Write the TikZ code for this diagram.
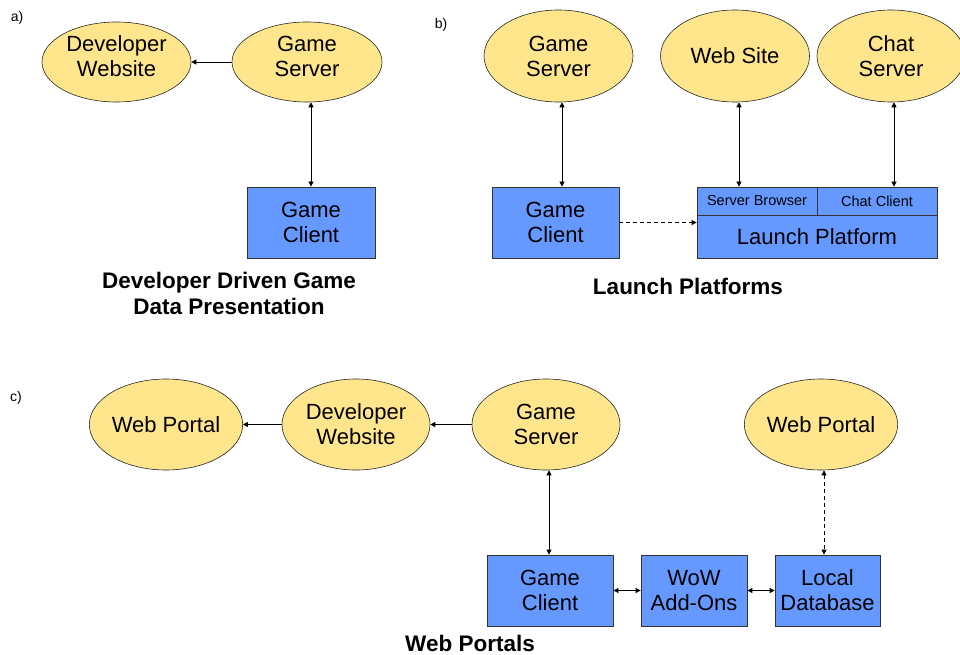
\documentclass[tikz,border=0pt]{standalone}
\usepackage{fontspec}
\setmainfont{Liberation Sans}
\usetikzlibrary{shapes.geometric,arrows.meta,calc}
\definecolor{srvyellow}{RGB}{255,230,140}
\definecolor{appblue}{RGB}{102,153,255}
\tikzset{
  >={Triangle[length=5pt,width=5pt]},
  srv/.style={ellipse, draw=black!85, line width=0.6pt, fill=srvyellow,
    inner sep=0pt, align=center, font=\fontsize{22}{25}\selectfont},
  srvtext/.style={inner sep=0pt, align=center, font=\fontsize{22}{25}\selectfont},
  app/.style={rectangle, draw=black!80, line width=0.8pt, fill=appblue,
    inner sep=0pt, align=center, font=\fontsize{22}{25}\selectfont},
  cell/.style={app, font=\fontsize{14.5}{17}\selectfont},
  heading/.style={align=center, font=\bfseries\fontsize{22.5}{26}\selectfont},
  partlabel/.style={font=\fontsize{14}{16}\selectfont},
  link/.style={line width=0.8pt},
  dashlink/.style={link, dash pattern=on 4pt off 3pt}
}
\begin{document}
\begin{tikzpicture}[x=1pt, y=-1pt]
\useasboundingbox (0,0) rectangle (960,655);

% ---- a) developer driven presentation (text sits above the ellipse centre)
\node[partlabel] (la) at (17,18) {a)};
\node[srv, minimum width=149pt, minimum height=80pt] (dwA) at (116.5,62) {};
\node[srvtext] (dwAt) at (116.5,56.5) {Developer\\Website};
\node[srv, minimum width=150pt, minimum height=80pt] (gsA) at (307,62) {};
\node[srvtext] (gsAt) at (307,56.5) {Game\\Server};
\node[app, minimum width=128pt, minimum height=71pt] (gcA) at (311,222.5) {Game\\Client};
\node[heading] (tA) at (229,293) {Developer Driven Game\\Data Presentation};
\draw[link,->] (gsA) -- (dwA);
\draw[link,<->] (gcA.north |- gsA.south) -- (gcA.north);

% ---- b) launch platforms
\node[partlabel] (lb) at (441,25) {b)};
\node[srv, minimum width=149pt, minimum height=92pt] (gsB) at (558.5,56) {Game\\Server};
\node[srv, minimum width=149pt, minimum height=92pt] (ws) at (735,56) {Web Site};
\node[srv, minimum width=148pt, minimum height=92pt] (cs) at (891,56) {Chat\\Server};
\node[app, minimum width=127pt, minimum height=71pt] (gcB) at (555.5,222.5) {Game\\Client};
\node[cell, minimum width=120pt, minimum height=28pt] (sb) at (757,201) {Server Browser};
\node[cell, minimum width=120pt, minimum height=28pt] (cc) at (877,201) {Chat Client};
\node[app, minimum width=240pt, minimum height=43pt] (lp) at (817,236.5) {Launch Platform};
\node[heading] (tB) at (688,286) {Launch Platforms};
\draw[link,<->] ([xshift=3.5pt]gsB.south) -- ([xshift=3.5pt]gsB.south |- gcB.north);
\draw[link,<->] ([xshift=4pt]ws.south) -- ([xshift=4pt]ws.south |- sb.north);
\draw[link,<->] ([xshift=3pt]cs.south) -- ([xshift=3pt]cs.south |- cc.north);
\draw[dashlink,->] (gcB.east) -- (gcB.east -| lp.west);

% ---- c) web portals
\node[partlabel] (lc) at (16,398) {c)};
\node[srv, minimum width=148pt, minimum height=91pt] (wpL) at (166,424.5) {Web Portal};
\node[srv, minimum width=148pt, minimum height=91pt] (dwC) at (356,424.5) {Developer\\Website};
\node[srv, minimum width=148pt, minimum height=91pt] (gsC) at (546,424.5) {Game\\Server};
\node[srv, minimum width=148pt, minimum height=91pt] (wpR) at (821,424.5) {Web Portal};
\node[app, minimum width=126pt, minimum height=71pt] (gcC) at (550,590.5) {Game\\Client};
\node[app, minimum width=106pt, minimum height=71pt] (wow) at (694,590.5) {WoW\\Add-Ons};
\node[app, minimum width=105pt, minimum height=71pt] (ldb) at (827.5,590.5) {Local\\Database};
\node[heading] (tC) at (470,643) {Web Portals};
\draw[link,->] (gsC) -- (dwC);
\draw[link,->] (dwC) -- (wpL);
\draw[link,<->] ([xshift=3pt]gsC.south) -- ([xshift=3pt]gsC.south |- gcC.north);
\draw[dashlink,<->] ([xshift=3pt]wpR.south) -- ([xshift=3pt]wpR.south |- ldb.north);
\draw[link,<->] (gcC) -- (wow);
\draw[link,<->] (wow) -- (ldb);
\end{tikzpicture}
\end{document}
